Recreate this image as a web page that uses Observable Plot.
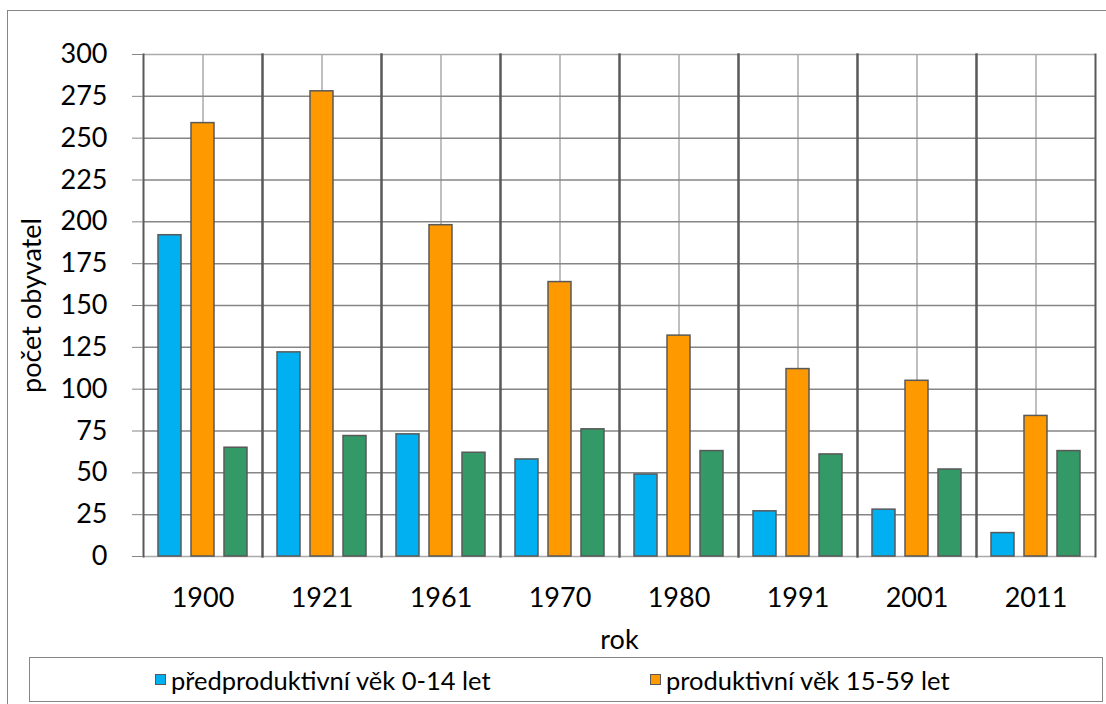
<!DOCTYPE html>
<html>
<head>
<meta charset="utf-8">
<script src="https://cdn.jsdelivr.net/npm/d3@7"></script>
<script src="https://cdn.jsdelivr.net/npm/@observablehq/plot@0.6"></script>
<style>
  html, body { margin: 0; padding: 0; background: #fff; }
  body { font-family: Lato, "Open Sans", sans-serif; }
  #wrap { position: relative; width: 1106px; height: 704px; overflow: hidden; background: #fff; }
  #border { position: absolute; left: 7px; top: 10px; width: 1300px; height: 900px; border: 1.5px solid #868686; }
  #chart { position: absolute; left: 0; top: 0; }
  #legend { position: absolute; left: 29px; top: 657px; width: 1072px; height: 43px; border: 1.5px solid #868686; background: #fff; }
  .item { position: absolute; top: 0; height: 43px; display: flex; align-items: center; font-size: 25.5px; color: #000; white-space: nowrap; }
  .sw { width: 9px; height: 9px; border: 1px solid #595959; margin-right: 5px; }
</style>
</head>
<body>
<div id="wrap">
  <div id="border"></div>
  <div id="chart"></div>
  <div id="legend"></div>
</div>
<script>
// ---- data ----
const years = ["1900", "1921", "1961", "1970", "1980", "1991", "2001", "2011"];
const seriesNames = ["předproduktivní věk 0-14 let", "produktivní věk 15-59 let", "poproduktivní věk 60 a více let"];
const preproductive = [192, 122, 73, 58, 49, 27, 28, 14];
const productive = [259, 278, 198, 164, 132, 112, 105, 84];
const postproductive = [65, 72, 62, 76, 63, 61, 52, 63];
const seriesColors = ["#00B0F0", "#FF9900", "#339966"];
const yTicks = [0, 25, 50, 75, 100, 125, 150, 175, 200, 225, 250, 275, 300];
const legendShown = [0, 1];
const yLabel = "počet obyvatel";
const xLabel = "rok";

const valuesBySeries = [preproductive, productive, postproductive];
const data = years.flatMap((yr, i) =>
  seriesNames.map((s, k) => ({ year: yr, series: s, value: valuesBySeries[k][i] }))
);

const chart = Plot.plot({
  width: 1106,
  height: 656,
  marginTop: 54,
  marginBottom: 100,
  marginLeft: 139,
  marginRight: 8,
  style: { fontFamily: "Lato, 'Open Sans', sans-serif", fontSize: "27px", color: "#000", background: "transparent", overflow: "visible" },
  fx: { domain: years, padding: 0, label: null },
  x: { domain: seriesNames, paddingInner: 0.294, paddingOuter: 0.412, axis: null },
  y: { domain: [0, 300], ticks: yTicks },
  color: { domain: seriesNames, range: seriesColors },
  marks: [
    Plot.ruleX([seriesNames[1]], { x: d => d, stroke: "#BFBFBF", strokeWidth: 2 }),
    Plot.ruleY(yTicks.filter(v => v > 0 && v < 300), { stroke: "#868686", strokeWidth: 1.5 }),
    Plot.ruleY([0, 300], { stroke: "#AAAAAA", strokeWidth: 1.5 }),
    Plot.frame({ anchor: "left", stroke: "#595959", strokeWidth: 2 }),
    Plot.frame({ anchor: "right", stroke: "#595959", strokeWidth: 2 }),
    Plot.barY(data, { fx: "year", x: "series", y: "value", fill: "series", stroke: "#595959", strokeWidth: 1.5 }),
    Plot.axisY({ ticks: yTicks, tickSize: 11, tickPadding: 25, stroke: "#868686", fill: "#000", fontSize: 27,
      label: yLabel, labelAnchor: "center", labelOffset: 122, labelArrow: "none" }),
    Plot.axisFx({ anchor: "bottom", tickSize: 0, tickPadding: 31, fill: "#000", fontSize: 27,
      label: xLabel, labelAnchor: "center", labelOffset: 92, labelArrow: "none" })
  ]
});
document.getElementById("chart").appendChild(chart);

// legend (HTML, below-chart box)
const legendEl = document.getElementById("legend");
const legendLeft = [125, 620];
legendShown.forEach((k, j) => {
  const it = document.createElement("div");
  it.className = "item";
  it.style.left = legendLeft[j] + "px";
  const sw = document.createElement("span");
  sw.className = "sw";
  sw.style.background = seriesColors[k];
  it.appendChild(sw);
  it.appendChild(document.createTextNode(seriesNames[k]));
  legendEl.appendChild(it);
});
</script>
</body>
</html>
